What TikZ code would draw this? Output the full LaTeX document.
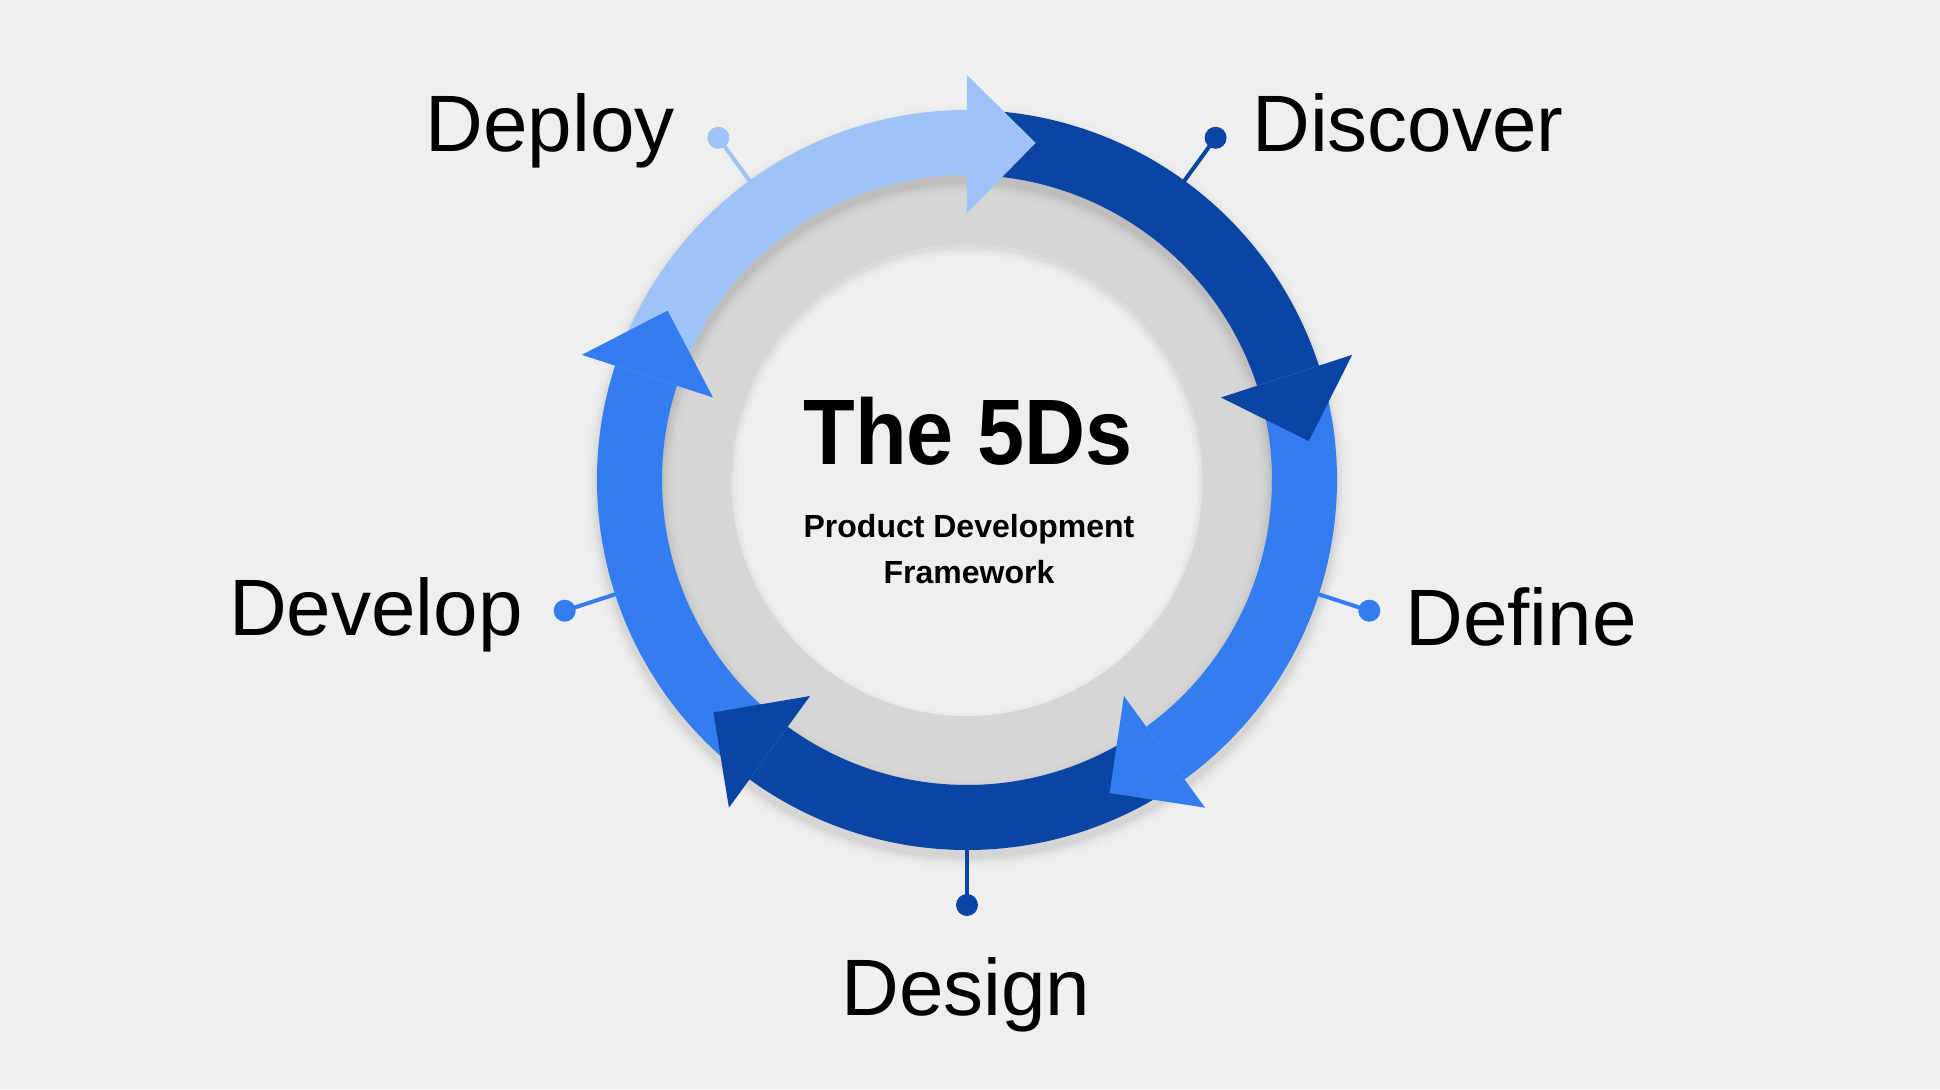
\documentclass[tikz,border=0pt]{standalone}
\usepackage{fontspec}
\setmainfont{Liberation Sans}
\newfontfamily\titlefont[FakeStretch=0.91]{Liberation Sans}
\definecolor{bgc}{HTML}{EFEFEF}
\definecolor{ringgray}{HTML}{D6D6D6}
\definecolor{lightb}{HTML}{9DC3F7}
\definecolor{midb}{HTML}{347DF0}
\definecolor{darkb}{HTML}{0B45A3}
\begin{document}
\begin{tikzpicture}[x=0.5pt,y=0.5pt,
  band/.style={fill=#1, draw=none},
  headshape/.style={fill=#1, draw=none},
  conn/.style={draw=#1, line width=2pt},
  dotnode/.style={circle, fill=#1, draw=none, minimum size=11pt, inner sep=0pt},
  lbl/.style={font=\fontsize{40}{48}\selectfont, inner sep=0pt, text=black},
  sub/.style={font=\fontsize{16}{19}\selectfont\bfseries, inner sep=0pt, text=black}]
% background and bounding box
\fill[bgc] (-967,-609) rectangle (973,480);
\useasboundingbox (-967,-609) rectangle (973,480);
% gray ring and inner disc
\fill[ringgray] (0,0) circle[radius=306];
\fill[bgc] (0,0) circle[radius=236];
% shadow of the gray ring on the inner disc
\begin{scope}
  \clip (0,0) circle[radius=236];
  \foreach \k/\o in {7/0.015,4/0.025,1/0.04}
    \fill[black, opacity=\o, even odd rule] (0,-4) circle[radius=320] (0,-4) circle[radius=236-\k];
\end{scope}
% shadow of the blue ring (on gray ring and background)
\foreach \k/\o in {12/0.012,8/0.02,5/0.03,2/0.045}
  \fill[black, opacity=\o, even odd rule] (0,-7) circle[radius=370+\k] (0,-7) circle[radius=305-\k];
% arrow bands
\foreach \b/\c in {90/lightb,18/darkb,-54/midb,-126/darkb,-198/midb}{
  \pgfmathsetmacro{\s}{\b+67}
  \fill[band=\c] (\s:370) arc[start angle=\s, end angle=\b, radius=370]
     -- (\b:305) arc[start angle=\b, end angle=\s, radius=305] -- cycle;
}
% arrow heads
\foreach \b/\c in {90/lightb,18/darkb,-54/midb,-126/darkb,-198/midb}{
  \pgfmathsetmacro{\t}{\b-11.5}
  \fill[headshape=\c] (\b:405) -- (\t:344) -- (\b:267) -- cycle;
}
% connector anchors on the ring
\coordinate (aDeploy) at (126:368);
\coordinate (aDiscover) at (54:368);
\coordinate (aDefine) at (-18:368);
\coordinate (aDesign) at (-90:368);
\coordinate (aDevelop) at (198:368);
% dots
\node[dotnode=lightb] (dDeploy) at (126:423) {};
\node[dotnode=darkb] (dDiscover) at (54:423) {};
\node[dotnode=midb] (dDefine) at (-18:423) {};
\node[dotnode=darkb] (dDesign) at (-90:425) {};
\node[dotnode=midb] (dDevelop) at (198:423) {};
% connectors
\draw[conn=lightb] (aDeploy) -- (dDeploy.center);
\draw[conn=darkb] (aDiscover) -- (dDiscover.center);
\draw[conn=midb] (aDefine) -- (dDefine.center);
\draw[conn=darkb] (aDesign) -- (dDesign.center);
\draw[conn=midb] (aDevelop) -- (dDevelop.center);
% labels
\node[lbl, anchor=base east] (tDeploy) at (-292,329) {Deploy};
\node[lbl, anchor=base west] (tDiscover) at (285,329) {Discover};
\node[lbl, anchor=base west] (tDefine) at (438,-165) {Define};
\node[lbl, anchor=base east] (tDevelop) at (-444,-155) {Develop};
\node[lbl, anchor=base] (tDesign) at (-1,-535) {Design};
% center text
\node[inner sep=0pt, anchor=base, font=\titlefont\fontsize{46.5}{56}\selectfont\bfseries] (title) at (1,16) {The 5Ds};
\node[sub, anchor=base] (sub1) at (2,-57) {Product Development};
\node[sub, anchor=base] (sub2) at (2,-103) {Framework};
\end{tikzpicture}
\end{document}
